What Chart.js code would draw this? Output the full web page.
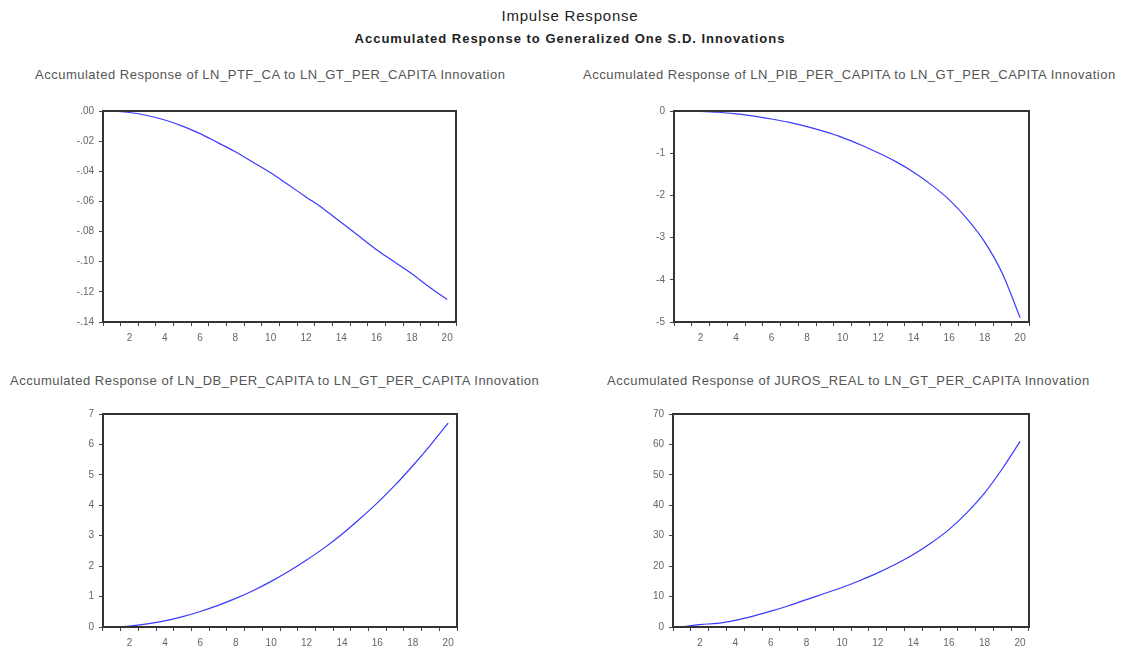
<!DOCTYPE html>
<html>
<head>
<meta charset="utf-8">
<script src="https://cdn.jsdelivr.net/npm/chart.js@4.4.1/dist/chart.umd.min.js"></script>
<style>
  html, body { margin: 0; padding: 0; background: #fff; overflow: hidden; }
  body { width: 1129px; height: 648px; position: relative; font-family: "Liberation Sans", Arial, sans-serif; }
  .t { position: absolute; white-space: nowrap; color: #222; }
  .pt { position: absolute; white-space: nowrap; color: #555; font-size: 13px; letter-spacing: 0.5px; }
  .box { position: absolute; }
</style>
</head>
<body>
<div class="t" style="left:0;width:1140px;text-align:center;top:7px;font-size:15px;letter-spacing:0.8px;">Impulse Response</div>
<div class="t" style="left:0;width:1140px;text-align:center;top:31px;font-size:13px;letter-spacing:1px;font-weight:bold;">Accumulated Response to Generalized One S.D. Innovations</div>

<div class="pt" style="left:35px;top:67px;">Accumulated Response of LN_PTF_CA to LN_GT_PER_CAPITA Innovation</div>
<div class="pt" style="left:583px;top:67px;">Accumulated Response of LN_PIB_PER_CAPITA to LN_GT_PER_CAPITA Innovation</div>
<div class="pt" style="left:10px;top:373px;">Accumulated Response of LN_DB_PER_CAPITA to LN_GT_PER_CAPITA Innovation</div>
<div class="pt" style="left:607px;top:373px;">Accumulated Response of JUROS_REAL to LN_GT_PER_CAPITA Innovation</div>

<div class="box" id="b1"><canvas id="c1"></canvas></div>
<div class="box" id="b2"><canvas id="c2"></canvas></div>
<div class="box" id="b3"><canvas id="c3"></canvas></div>
<div class="box" id="b4"><canvas id="c4"></canvas></div>

<script>
// periodos (horizonte da resposta)
const periods = ['1','2','3','4','5','6','7','8','9','10','11','12','13','14','15','16','17','18','19','20'];

// respostas acumuladas
const lnPtfCa = [0, -0.001, -0.003, -0.006, -0.010, -0.015, -0.021, -0.027, -0.034, -0.041, -0.049, -0.057, -0.065, -0.074, -0.083, -0.092, -0.100, -0.108, -0.117, -0.125];
const lnPibPerCapita = [0, -0.01, -0.03, -0.07, -0.12, -0.19, -0.27, -0.37, -0.49, -0.63, -0.80, -0.99, -1.20, -1.45, -1.75, -2.10, -2.55, -3.10, -3.85, -4.90];
const lnDbPerCapita = [0, 0.03, 0.10, 0.20, 0.34, 0.51, 0.71, 0.94, 1.20, 1.50, 1.83, 2.20, 2.60, 3.05, 3.55, 4.08, 4.66, 5.30, 5.98, 6.70];
const jurosReal = [0, 0.8, 1.2, 2.2, 3.6, 5.2, 7.0, 9.0, 11.0, 13.0, 15.3, 17.8, 20.6, 23.8, 27.6, 32.0, 37.5, 44.0, 52.0, 61.0];

// limites dos eixos y
const yMin = [-0.14, -5, 0, 0];
const yMax = [0, 0, 7, 70];
const yStep = [0.02, 1, 1, 10];

// area de plotagem de cada painel (px na pagina)
const panels = [
  { id: 1, data: lnPtfCa,        l: 103, r: 456,  t: 108, b: 322 },
  { id: 2, data: lnPibPerCapita, l: 674, r: 1029, t: 108, b: 322 },
  { id: 3, data: lnDbPerCapita,  l: 103, r: 457,  t: 411, b: 627 },
  { id: 4, data: jurosReal,      l: 673, r: 1029, t: 411, b: 627 }
];

const Y_W = 63, PAD_T = 8, PAD_R = 14, X_H = 26;

// moldura escura em volta da area
const frame = {
  id: 'frame',
  afterDraw(chart) {
    const a = chart.chartArea, c = chart.ctx;
    c.save();
    c.strokeStyle = '#333';
    c.lineWidth = 2;
    c.strokeRect(a.left, a.top, a.right - a.left, a.bottom - a.top);
    c.restore();
  }
};

function fmtY(i, v) {
  if (i === 0) {
    return Math.abs(v) < 1e-9 ? '.00' : v.toFixed(2).replace('0.', '.');
  }
  return String(Math.round(v));
}

panels.forEach((p, i) => {
  const box = document.getElementById('b' + p.id);
  const w = (p.r - p.l) + Y_W + PAD_R;
  const h = (p.b - p.t) + PAD_T + X_H;
  box.style.left = (p.l - Y_W) + 'px';
  box.style.top = (p.t - PAD_T) + 'px';
  box.style.width = w + 'px';
  box.style.height = h + 'px';

  new Chart(document.getElementById('c' + p.id), {
    type: 'line',
    data: {
      labels: periods,
      datasets: [{
        data: p.data,
        borderColor: '#3a3aff',
        borderWidth: 1.2,
        pointRadius: 0,
        fill: false,
        tension: 0.3,
        cubicInterpolationMode: 'monotone'
      }]
    },
    options: {
      responsive: true,
      maintainAspectRatio: false,
      animation: false,
      layout: { padding: { top: PAD_T, right: PAD_R, left: 0, bottom: 0 } },
      plugins: { legend: { display: false }, tooltip: { enabled: false } },
      scales: {
        x: {
          type: 'category',
          offset: true,
          grid: { offset: true, drawOnChartArea: false, drawTicks: true, tickLength: 4, color: '#444' },
          border: { display: false },
          ticks: {
            autoSkip: false,
            maxRotation: 0,
            padding: 6,
            color: '#666',
            font: { family: 'Liberation Sans, Arial, sans-serif', size: 10 },
            callback: function (val, idx) { return (idx + 1) % 2 === 0 ? periods[idx] : ''; }
          },
          afterFit(s) { s.height = X_H; }
        },
        y: {
          min: yMin[i],
          max: yMax[i],
          grid: { drawOnChartArea: false, drawTicks: true, tickLength: 4, color: '#444' },
          border: { display: false },
          ticks: {
            stepSize: yStep[i],
            padding: 5,
            color: '#666',
            font: { family: 'Liberation Sans, Arial, sans-serif', size: 10 },
            callback: (v) => fmtY(i, v)
          },
          afterFit(s) { s.width = Y_W; }
        }
      }
    },
    plugins: [frame]
  });
});
</script>
</body>
</html>
